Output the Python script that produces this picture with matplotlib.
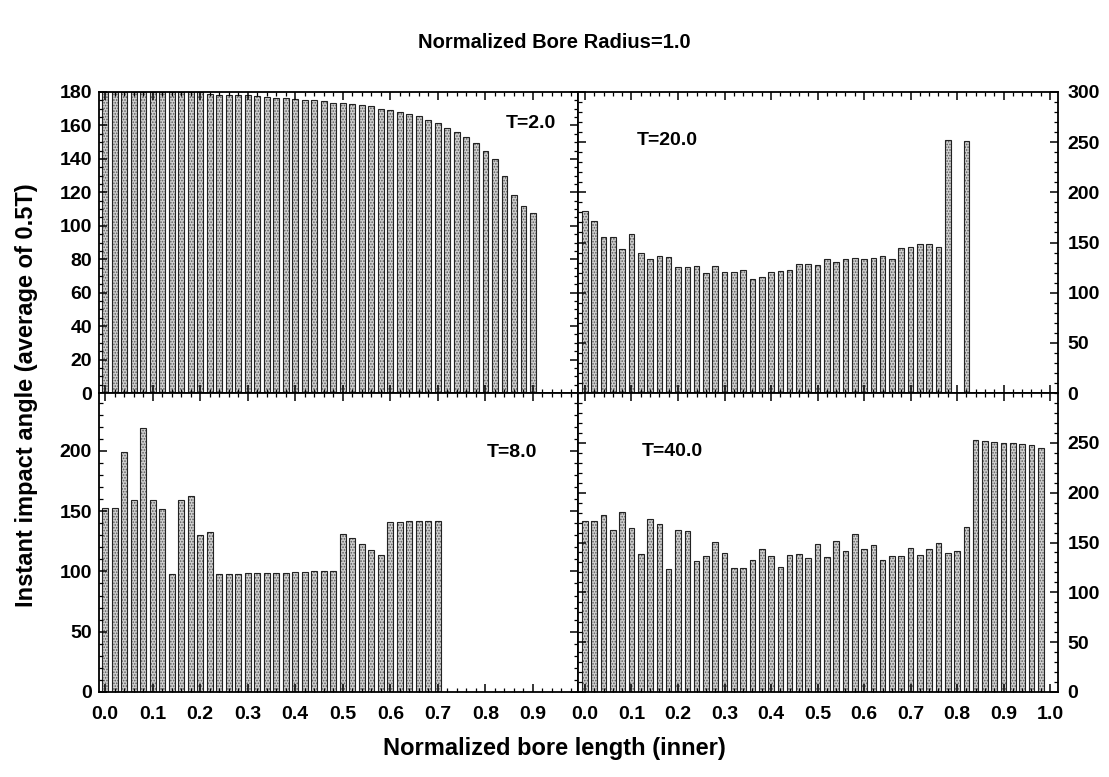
import numpy as np
import matplotlib.pyplot as plt
from matplotlib.ticker import MultipleLocator

plt.rcParams['font.family'] = ['Liberation Sans', 'DejaVu Sans']
plt.rcParams['font.weight'] = 'bold'
plt.rcParams['hatch.linewidth'] = 0.8

# bar spacing along the bore (normalized length)
step = 0.02

# T=2.0 (left axis, 0-180)
t2 = [180, 180, 180, 180, 180, 180, 180, 180, 180, 180, 180,
      179, 178.4, 178.4, 178, 178, 177.6, 177, 176.4, 176.4, 175.6,
      175.4, 175, 174.4, 173.6, 173.4, 172.8, 172, 171.4, 170, 169,
      168, 167, 165.6, 163.4, 161.4, 158.4, 156, 153, 149.4, 145,
      140, 130, 118.4, 112, 107.4]

# T=20.0 (right axis, 0-300)
t20 = [181, 171, 155, 155, 144, 158, 140, 134, 137, 136,
       126, 126, 127, 120, 127, 121, 121, 123, 114, 116,
       121, 122, 123, 129, 129, 128, 134, 131, 134, 135,
       134, 135, 137, 134, 145, 146, 149, 149, 146, 252,
       0, 251]

# T=8.0 (left axis)
t8 = [153, 153, 199.4, 159, 219, 159, 152, 98, 159, 162.6,
      130.5, 133, 98, 98, 98, 99, 99, 99, 99, 99,
      99.7, 99.7, 100, 100, 100.5, 131, 128, 123, 118, 114,
      140.7, 140.7, 141.8, 141.8, 142, 142]

# T=40.0 (right axis)
t40 = [172, 172, 177.5, 162.4, 180.5, 164.4, 138.4, 174, 168.4, 123,
       162.4, 161.4, 131, 136.4, 150.4, 139.7, 124, 124.3, 132.4, 143.7,
       136.4, 125.3, 137.4, 138.4, 134, 148.4, 135.4, 151.4, 141.4, 159,
       143, 147, 132.7, 136.7, 136.4, 144.4, 137.4, 143.4, 150, 139.4,
       141.4, 165.4, 252.7, 251.7, 251, 249.7, 249.7, 248.7, 247.7, 245.3]

labels = ['T=2.0', 'T=20.0', 'T=8.0', 'T=40.0']

fig = plt.figure(figsize=(11.09, 7.77), dpi=100)

lx, rx = 0.0893, 0.5212
w_l, w_r = 0.4319, 0.4328
bot_b, top_b = 0.1094, 0.4942
h_t, h_b = 0.3874, 0.3848

ax_tl = fig.add_axes([lx, top_b, w_l, h_t])
ax_tr = fig.add_axes([rx, top_b, w_r, h_t])
ax_bl = fig.add_axes([lx, bot_b, w_l, h_b])
ax_br = fig.add_axes([rx, bot_b, w_r, h_b])

fs_tick = 14

for ax, vals in [(ax_tl, t2), (ax_tr, t20), (ax_bl, t8), (ax_br, t40)]:
    x = np.arange(len(vals)) * step
    # stippled fill, then a dark outline on top
    ax.bar(x, vals, width=0.012, color='#cfcfcf', edgecolor='#5a5a5a',
           hatch='......', linewidth=0)
    ax.bar(x, vals, width=0.012, fill=False, edgecolor='#222222', linewidth=0.8)
    ax.tick_params(which='both', direction='in', top=True, bottom=True,
                   left=True, right=True, labelsize=fs_tick)
    ax.tick_params(axis='x', pad=10)
    ax.tick_params(axis='y', pad=5)
    ax.tick_params(which='major', length=6, width=1.1)
    ax.tick_params(which='minor', length=3, width=0.9)
    ax.xaxis.set_major_locator(MultipleLocator(0.1))
    ax.xaxis.set_minor_locator(MultipleLocator(0.02))
    for s in ax.spines.values():
        s.set_linewidth(1.3)

# left column
for ax in (ax_tl, ax_bl):
    ax.set_xlim(-0.013, 0.995)
ax_tl.set_ylim(0, 180)
ax_tl.yaxis.set_major_locator(MultipleLocator(20))
ax_tl.yaxis.set_minor_locator(MultipleLocator(5))
ax_bl.set_ylim(0, 248)
ax_bl.yaxis.set_major_locator(MultipleLocator(50))
ax_bl.yaxis.set_minor_locator(MultipleLocator(10))

# right column
for ax in (ax_tr, ax_br):
    ax.set_xlim(-0.015, 1.017)
    ax.set_ylim(0, 300)
    ax.yaxis.set_major_locator(MultipleLocator(50))
    ax.yaxis.set_minor_locator(MultipleLocator(10))
    ax.tick_params(labelleft=False, labelright=True)
    ax.tick_params(axis='y', pad=7)

ax_br.set_yticks([0, 50, 100, 150, 200, 250])

for ax in (ax_tl, ax_tr):
    ax.tick_params(labelbottom=False)

for ax in (ax_bl, ax_br):
    ax.xaxis.set_major_formatter(plt.FuncFormatter(lambda v, p: '%.1f' % v))

txt_kw = dict(ha='center', va='center', fontsize=14, fontweight='bold')
ax_tl.text(0.902, 0.894, labels[0], transform=ax_tl.transAxes, **txt_kw)
ax_tr.text(0.185, 0.84, labels[1], transform=ax_tr.transAxes, **txt_kw)
ax_bl.text(0.862, 0.80, labels[2], transform=ax_bl.transAxes, **txt_kw)
ax_br.text(0.196, 0.803, labels[3], transform=ax_br.transAxes, **txt_kw)

fig.text(0.5, 0.9447, 'Normalized Bore Radius=1.0', ha='center', va='center', fontsize=14.5, fontweight='bold')
fig.text(0.0235, 0.4916, 'Instant impact angle (average of 0.5T)', rotation=90,
         ha='center', va='center', fontsize=17, fontweight='bold')
fig.text(0.5, 0.037, 'Normalized bore length (inner)', ha='center', va='center', fontsize=17, fontweight='bold')

fig.savefig('out.png', dpi=100)
